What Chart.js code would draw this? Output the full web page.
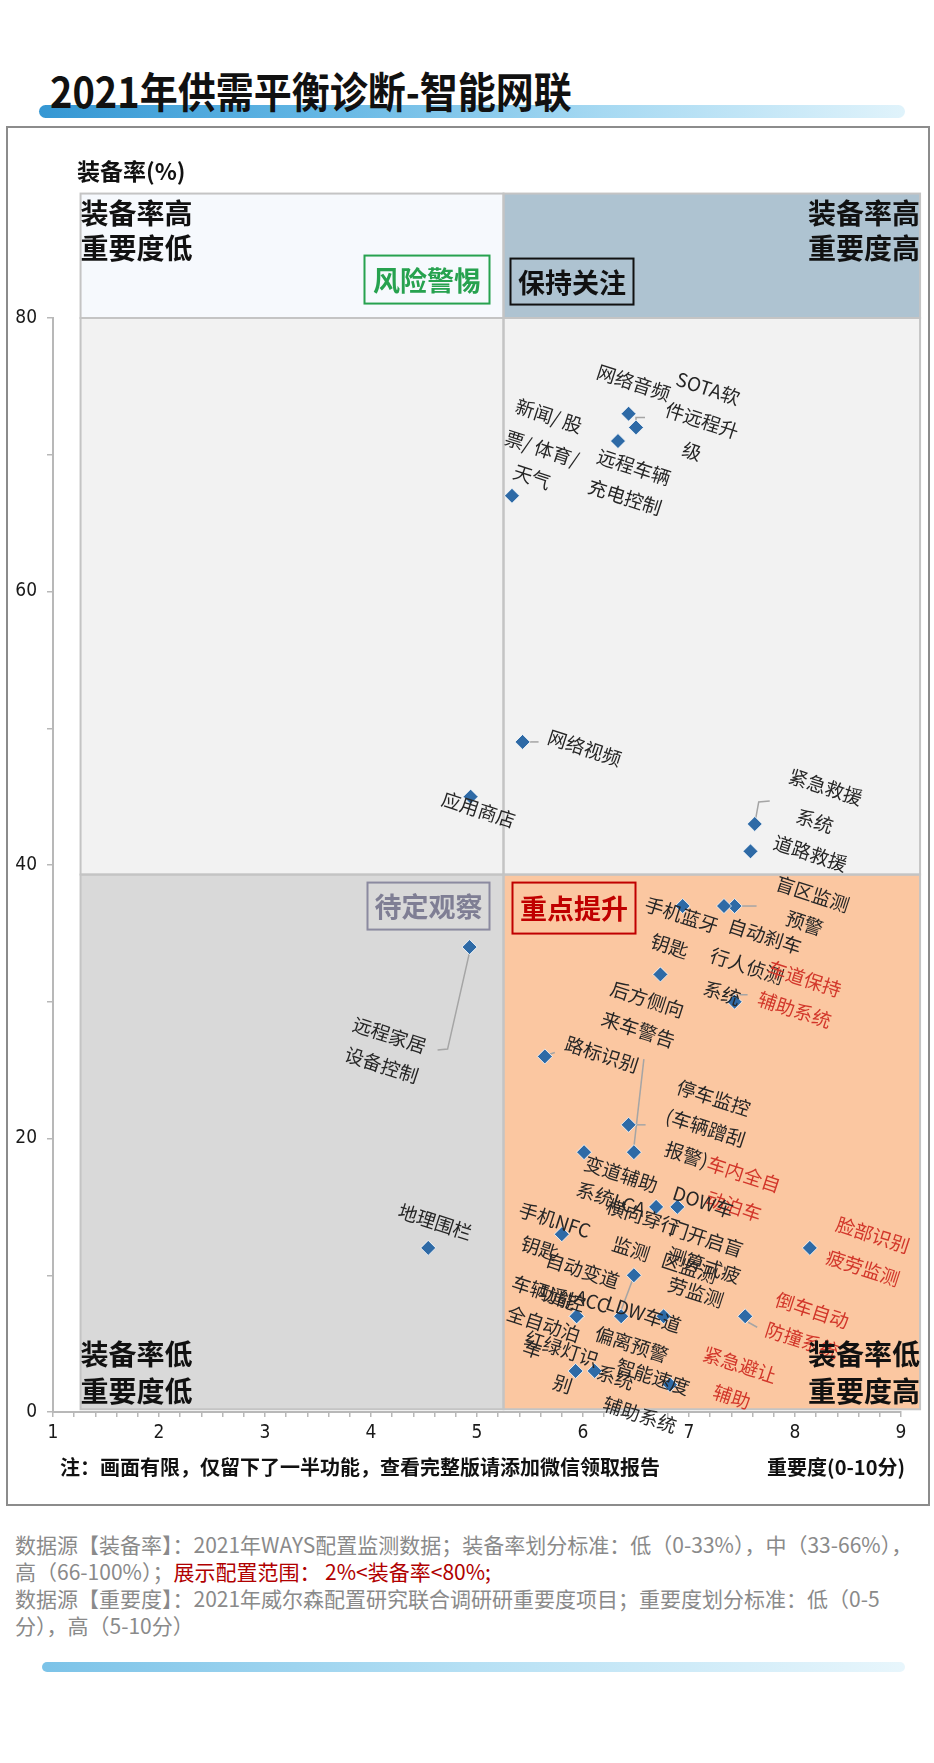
<!DOCTYPE html>
<html>
<head>
<meta charset="utf-8">
<title>2021年供需平衡诊断-智能网联</title>
<script src="https://cdn.jsdelivr.net/npm/chart.js"></script>
<style>
  body { margin: 0; width: 934px; height: 1763px; background: #fff; position: relative; overflow: hidden; font-family: "Noto Sans CJK SC", sans-serif; }
  .titlebar { position: absolute; left: 39px; top: 105px; width: 866px; height: 13px; border-radius: 7px;
    background: linear-gradient(to right, #3597d3 0%, #5fb4e3 30%, #a6d9f2 65%, #e0f3fb 100%); }
  .title { position: absolute; left: 50px; top: 67px; font-size: 38px; font-weight: bold; line-height: 46px; color: #111;
    transform: scaleY(1.1); transform-origin: left center; white-space: nowrap; }
  .frame { position: absolute; left: 6px; top: 126px; width: 924px; height: 1380px; border: 2px solid #8c8c8c; box-sizing: border-box; }
  #wrap { position: absolute; left: 0; top: 0; width: 934px; height: 1510px; }
  .foot { position: absolute; left: 15px; top: 1531px; font-family: "Liberation Sans Narrow", "Noto Sans CJK SC", sans-serif;
    font-size: 21px; line-height: 27px; color: #8a8a8a; white-space: nowrap; }
  .foot .red { color: #b00000; }
  .footbar { position: absolute; left: 42px; top: 1662px; width: 863px; height: 10px; border-radius: 5px;
    background: linear-gradient(to right, #7cc3e8 0%, #b6e0f4 50%, #e8f6fc 100%); }
</style>
</head>
<body>
  <div class="titlebar"></div>
  <div class="title">2021年供需平衡诊断-智能网联</div>
  <div class="frame"></div>
  <div id="wrap"><canvas id="quadrant"></canvas></div>
  <div class="foot">
    数据源【装备率】：2021年WAYS配置监测数据；装备率划分标准：低（0-33%），中（33-66%），<br>
    高（66-100%）；<span class="red">展示配置范围： 2%&lt;装备率&lt;80%;</span><br>
    数据源【重要度】：2021年威尔森配置研究联合调研研重要度项目；重要度划分标准：低（0-5<br>
    分），高（5-10分）
  </div>
  <div class="footbar"></div>

<script>
// 功能名称（\n 为图中标签的换行）
var features = [
    '新闻/ 股\n票/ 体育/\n天气', '网络音频', 'SOTA软\n件远程升\n级', '远程车辆\n充电控制',
    '网络视频', '紧急救援\n系统', '道路救援', '应用商店', '远程家居\n设备控制', '地理围栏',
    '手机蓝牙\n钥匙', '盲区监测\n预警', '自动刹车\n行人侦测\n系统', '车道保持\n辅助系统',
    '后方侧向\n来车警告', '路标识别', '停车监控\n(车辆蹭刮\n报警)', '车内全自\n动泊车',
    '变道辅助\n系统LCA', '横向穿行\n监测', 'DOW车\n门开启盲\n区监测', '测算式疲\n劳监测',
    '手机NFC\n钥匙', '自动变道', '车辆遥控\n功能', 'ACC', 'LDW车道\n偏离预警\n系统',
    '倒车自动\n防撞系统', '全自动泊\n车', '红绿灯识\n别', '智能速度\n辅助系统',
    '紧急避让\n辅助', '脸部识别\n疲劳监测'
];
// 重要度 (0-10分)
var importance = [
    5.33, 6.43, 6.50, 6.33, 5.43, 7.62, 7.58, 4.94, 4.93, 4.54,
    6.94, 7.43, 7.33, 7.43, 6.73, 5.64, 6.43, 6.48, 6.01, 6.69,
    6.89, 6.48, 5.80, 5.94, 5.94, 6.36, 6.76, 7.53, 5.93, 6.11,
    6.82, 6.82, 8.14
];
// 装备率 (%)
var rate = [
    67, 73, 72, 71, 49, 43, 41, 45, 34, 12,
    37, 37, 37, 30, 32, 26, 21, 19, 19, 15,
    15, 10, 13, 7, 7, 7, 7, 7, 3, 3,
    2, 2, 12
];
var xTicks = [1, 9];
var yTicks = [0, 80];

// 象限背景的边界（数据单位）
var quadX = [1.26, 5.25, 9.18];
var quadY = [0.2, 39.3, 80, 89.1];

// 标签排版：每行相对数据点的像素偏移、引导线、是否红色
var labelLayout = [
    {lines: [[37, -80], [30, -47], [20, -19]]},
    {lines: [[5, -31]]},
    {lines: [[72, -39], [66, -7], [56, 24]], leader: [[0, -4], [0, -10], [9, -10]]},
    {lines: [[16, 26], [7, 56]]},
    {lines: [[62, 6]], leader: [[4, 0], [16, 0]]},
    {lines: [[71, -37], [60, -3]], leader: [[0, 0], [4, -22], [15, -23]]},
    {lines: [[60, 2]]},
    {lines: [[8, 13]]},
    {lines: [[-80, 88], [-88, 118]], leader: [[0, 5], [-22, 102], [-32, 103]]},
    {lines: [[7, -26]]},
    {lines: [[-1, 9], [-13, 40]]},
    {lines: [[78, -12], [70, 17]], leader: [[5, 0], [22, 0]]},
    {lines: [[41, 30], [23, 60], [-2, 87]]},
    {lines: [[70, -23], [60, 8]], leader: [[5, -7], [13, -7]], red: true},
    {lines: [[-13, 25], [-22, 55]]},
    {lines: [[57, -2]], leader: [[4, -2], [10, -4]]},
    {lines: [[85, -27], [77, 3], [58, 30]], leader: [[3, 0], [17, 0]]},
    {lines: [[110, 22], [100, 54]], leader: [[0, -5], [10, -93]], red: true},
    {lines: [[37, 22], [27, 47]]},
    {lines: [[-13, 10], [-25, 42]]},
    {lines: [[26, -5], [29, 32], [12, 61]]},
    {lines: [[70, -10], [62, 17]]},
    {lines: [[-7, -14], [-22, 14]]},
    {lines: [[6, -46]]},
    {lines: [[-28, -23], [-19, -19]]},
    {lines: [[-29, -15]], leader: [[0, -6], [12, -38]]},
    {lines: [[-20, -2], [-32, 28], [-48, 61]]},
    {lines: [[67, -6], [57, 24]], leader: [[3, 6], [12, 11]], red: true},
    {lines: [[-32, -47], [-43, -22]]},
    {lines: [[-33, -22], [-32, 13]]},
    {lines: [[-17, -8], [-30, 30]]},
    {lines: [[70, -20], [62, 12]], red: true},
    {lines: [[63, -13], [53, 20]], red: true}
];

var CJK = '"Noto Sans CJK SC", sans-serif';
var tickFont = '"Liberation Sans Narrow", "DejaVu Sans Condensed", sans-serif';
var ANGLE = 18 * Math.PI / 180;

var quadrantPlugin = {
    id: 'quadrants',
    beforeDraw: function(chart) {
        var ctx = chart.ctx, xs = chart.scales.x, ys = chart.scales.y;
        var px = quadX.map(function(v) { return xs.getPixelForValue(v); });
        var py = quadY.map(function(v) { return ys.getPixelForValue(v); });
        var cells = [
            [px[0], py[3], px[1], py[2], '#f6f9fd'], [px[1], py[3], px[2], py[2], '#aec3d1'],
            [px[0], py[2], px[1], py[1], '#f2f2f2'], [px[1], py[2], px[2], py[1], '#f2f2f2'],
            [px[0], py[1], px[1], py[0], '#d9d9d9'], [px[1], py[1], px[2], py[0], '#fbc7a1']
        ];
        ctx.save();
        cells.forEach(function(c) { ctx.fillStyle = c[4]; ctx.fillRect(c[0], c[1], c[2] - c[0], c[3] - c[1]); });
        ctx.strokeStyle = '#c4c4c4';
        ctx.lineWidth = 2;
        cells.forEach(function(c) { ctx.strokeRect(c[0], c[1], c[2] - c[0], c[3] - c[1]); });
        ctx.restore();
    },
    beforeDatasetsDraw: function(chart) {
        var ctx = chart.ctx, pts = chart.getDatasetMeta(0).data;
        ctx.save();
        ctx.strokeStyle = '#a5a5a5';
        ctx.lineWidth = 1.5;
        labelLayout.forEach(function(l, i) {
            if (!l.leader) return;
            var p = pts[i];
            ctx.beginPath();
            l.leader.forEach(function(d, k) {
                if (k) ctx.lineTo(p.x + d[0], p.y + d[1]); else ctx.moveTo(p.x + d[0], p.y + d[1]);
            });
            ctx.stroke();
        });
        ctx.restore();
    },
    afterDatasetsDraw: function(chart) {
        var ctx = chart.ctx, pts = chart.getDatasetMeta(0).data;
        ctx.save();
        ctx.font = '19px ' + CJK;
        ctx.textAlign = 'center';
        ctx.textBaseline = 'middle';
        features.forEach(function(name, i) {
            var l = labelLayout[i], p = pts[i];
            ctx.fillStyle = l.red ? '#d2362a' : '#262626';
            name.split('\n').forEach(function(line, k) {
                var d = l.lines[k];
                ctx.save();
                ctx.translate(p.x + d[0], p.y + d[1]);
                ctx.rotate(ANGLE);
                ctx.fillText(line, 0, 0);
                ctx.restore();
            });
        });
        ctx.restore();
    },
    afterDraw: function(chart) {
        var ctx = chart.ctx, xs = chart.scales.x, ys = chart.scales.y, area = chart.chartArea;
        var px = quadX.map(function(v) { return xs.getPixelForValue(v); });
        var py = quadY.map(function(v) { return ys.getPixelForValue(v); });
        ctx.save();
        ctx.textBaseline = 'middle';

        // 四个角的象限说明
        ctx.font = 'bold 28px ' + CJK;
        ctx.fillStyle = '#111';
        ctx.textAlign = 'left';
        ctx.fillText('装备率高', px[0], py[3] + 20);
        ctx.fillText('重要度低', px[0], py[3] + 55);
        ctx.fillText('装备率低', px[0], py[0] - 55);
        ctx.fillText('重要度低', px[0], py[0] - 18);
        ctx.textAlign = 'right';
        ctx.fillText('装备率高', px[2], py[3] + 20);
        ctx.fillText('重要度高', px[2], py[3] + 55);
        ctx.fillText('装备率低', px[2], py[0] - 55);
        ctx.fillText('重要度高', px[2], py[0] - 18);

        // 带框的象限名称
        var boxes = [
            ['风险警惕', px[1] - 139, py[3] + 62, 125, 48, '#27a24f', '#27a24f'],
            ['保持关注', px[1] + 7, py[3] + 65, 123, 46, '#111', '#111'],
            ['待定观察', px[1] - 136, py[1] + 8, 122, 47, '#8b8aa0', '#7f7e94'],
            ['重点提升', px[1] + 9, py[1] + 8, 123, 51, '#c00000', '#c00000']
        ];
        ctx.font = 'bold 27px ' + CJK;
        ctx.textAlign = 'center';
        ctx.lineWidth = 2;
        boxes.forEach(function(b) {
            ctx.strokeStyle = b[5];
            ctx.strokeRect(b[1], b[2], b[3], b[4]);
            ctx.fillStyle = b[6];
            ctx.fillText(b[0], b[1] + b[3] / 2, b[2] + b[4] / 2 + 1);
        });

        // 坐标轴标题与注释
        ctx.fillStyle = '#111';
        ctx.textAlign = 'left';
        ctx.font = 'bold 23px ' + CJK;
        ctx.fillText('装备率(%)', area.left + 24, py[3] - 22);
        ctx.font = 'bold 20px ' + CJK;
        ctx.fillText('注：画面有限，仅留下了一半功能，查看完整版请添加微信领取报告', 60, area.bottom + 55);
        ctx.textAlign = 'right';
        ctx.fillText('重要度(0-10分)', 905, area.bottom + 55);
        ctx.restore();
    }
};

var ctx = document.getElementById('quadrant');
new Chart(ctx, {
    type: 'scatter',
    data: {
        datasets: [{
            data: importance.map(function(v, i) { return {x: v, y: rate[i]}; }),
            pointStyle: 'rectRot',
            pointRadius: 7.5,
            pointHoverRadius: 7.5,
            backgroundColor: '#2e6aa6',
            borderColor: '#ffffff',
            borderWidth: 0.8
        }]
    },
    options: {
        responsive: true,
        maintainAspectRatio: false,
        animation: false,
        events: [],
        layout: { padding: { left: 13, right: 33, top: 318, bottom: 58 } },
        plugins: { legend: { display: false }, tooltip: { enabled: false } },
        scales: {
            x: {
                type: 'linear',
                min: xTicks[0],
                max: xTicks[1],
                afterFit: function(s) { s.height = 40; },
                border: { color: '#b8b8b8', width: 2 },
                grid: { drawOnChartArea: false, drawTicks: true, tickLength: 5, color: '#b8b8b8', lineWidth: 1.5 },
                ticks: {
                    stepSize: 0.2, autoSkip: false, maxRotation: 0, padding: 5, color: '#1a1a1a',
                    font: { family: tickFont, size: 19 },
                    callback: function(v) { return Math.abs(v - Math.round(v)) < 1e-6 ? String(Math.round(v)) : ''; }
                }
            },
            y: {
                type: 'linear',
                min: yTicks[0],
                max: yTicks[1],
                afterFit: function(s) { s.width = 40; },
                border: { color: '#b8b8b8', width: 2 },
                grid: { drawOnChartArea: false, drawTicks: true, tickLength: 6, color: '#b8b8b8', lineWidth: 1.5 },
                ticks: {
                    stepSize: 10, padding: 10, color: '#1a1a1a',
                    font: { family: tickFont, size: 19 },
                    callback: function(v) { return v % 20 === 0 ? v : ''; }
                }
            }
        }
    },
    plugins: [quadrantPlugin]
});
</script>
</body>
</html>
